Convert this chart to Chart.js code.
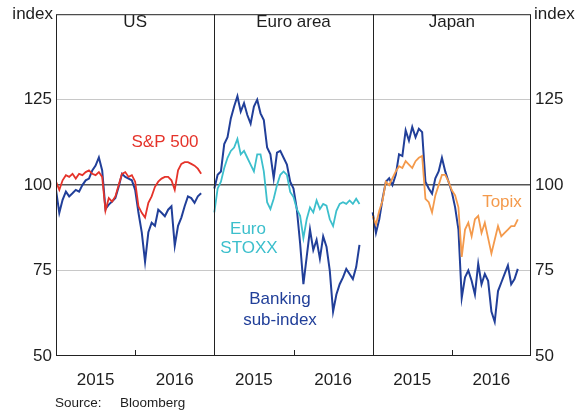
<!DOCTYPE html>
<html>
<head>
<meta charset="UTF-8">
<title>Bank share prices</title>
<script src="https://cdn.jsdelivr.net/npm/chart.js@4.4.0/dist/chart.umd.min.js"></script>
<style>
body { margin:0; background:#fff; }
</style>
</head>
<body>
<canvas id="myChart" width="588" height="412"></canvas>
<script>
// months since Jan 2015 (half-month steps), same for every panel
var months = [0,0.5,1,1.5,2,2.5,3,3.5,4,4.5,5,5.5,6,6.5,7,7.5,8,8.5,9,9.5,10,10.5,
  11,11.5,12,12.5,13,13.5,14,14.5,15,15.5,16,16.5,17,17.5,18,18.5,19,19.5,20,20.5,21,21.5,22];
var panels = ['US', 'Euro area', 'Japan'];
var yearLabels = ['2015', '2016'];
var yTicks = [50, 75, 100, 125];

// index values
var spx = [101,98.6,101.4,102.9,102.4,103.3,101.9,103.3,102.9,103.8,104.3,103.3,102.9,103.8,102.4,92.5,96.2,95.2,96.7,100,
  103.3,103.8,102.4,102.9,101,93.8,91.9,90.5,94.8,96.7,99.5,101,101.9,102.4,102.4,101.4,98.6,104.3,106.2,106.7,106.7,106.2,105.7,104.8,103.3];
var usBanks = [98.6,91.9,95.7,98.1,96.7,97.6,98.6,98.1,100,101.4,101.9,104.3,105.7,108.1,104.3,93,94.3,95.2,96.2,99.5,
  103.3,102.4,101.9,101.4,98.6,91.9,86.2,77.6,86.2,89,88.1,92.8,91.9,90.9,92.8,93.8,82.3,88.1,90.5,93.8,96.7,96.2,94.8,96.7,97.6];
var euroStoxx = [92,99,101,105,108,110,111,113.5,109,110,108,106,104,109,109,104,95,93,96,100,
  103,104,103,98,96.5,93,91,84.5,90,93.5,92,95.5,93,94.5,94,90,88,92.5,94.5,95,94.5,95.5,94.5,96,94.5];
var euroBanks = [99,103,104,112,114,119.5,123,126,121.5,124,120.5,118,123,125,121,119,111,109,102,109.5,
  110,108,106,101,99,93,83,71,79,87,81,84,78.5,85,82,75,63,68,71,73,75.5,74,72.5,76,82.5];
var topix = [91,88.5,92.5,95.5,101,100,102,104,105.5,105,107,106,105,107,108,108.5,96,95,92,97,
  100,103,103,101,98.5,97,93.5,79,87,89,85,90,91,86,89,84.5,80,84,88,85,86,87,88,88,90];
var japanBanks = [92,86,90,96,101,102,100,103,109,108.5,116,113,117,114,116.5,115.5,101,99,97.5,102,
  104,108,104,101,98,93.5,87,67,73,75,72,68,77,71,74,72,63,60,69,71.5,74,76.5,71,72.5,75.5];

var BLUE = '#213f99', RED = '#e5332a', CYAN = '#3cbfcc', ORANGE = '#f49a4c', TEXT = '#1e1e1e';
var FONT = '"Liberation Sans", Arial, sans-serif';
Chart.defaults.font.family = FONT;

// each panel is 24 months wide on one shared x scale
function toPoints(vals, panel) {
  return vals.map(function(v, i) { return { x: panel * 24 + months[i], y: v }; });
}
function line(vals, panel, color, w) {
  return { data: toPoints(vals, panel), borderColor: color, borderWidth: w,
           pointRadius: 0, tension: 0, fill: false, yAxisID: 'y' };
}

var framePlugin = {
  id: 'frame',
  afterDraw: function(chart) {
    var c = chart.ctx, a = chart.chartArea, x = chart.scales.x;
    c.save();
    c.strokeStyle = '#222';
    c.lineWidth = 1;
    c.strokeRect(a.left + 0.5, a.top + 0.5, a.right - a.left - 1, a.bottom - a.top - 1);
    // panel dividers
    [24, 48].forEach(function(v) {
      var px = Math.round(x.getPixelForValue(v)) + 0.5;
      c.beginPath(); c.moveTo(px, a.top); c.lineTo(px, a.bottom); c.stroke();
    });
    // year ticks
    [12, 36, 60].forEach(function(v) {
      var px = Math.round(x.getPixelForValue(v)) + 0.5;
      c.beginPath(); c.moveTo(px, a.bottom); c.lineTo(px, a.bottom - 6); c.stroke();
    });
    c.fillStyle = TEXT;
    c.font = '17px ' + FONT;
    c.textBaseline = 'middle';
    c.textAlign = 'right';
    c.fillText('index', a.left - 3, 14);
    c.textAlign = 'left';
    c.fillText('index', a.right + 3, 14);
    c.textAlign = 'center';
    panels.forEach(function(p, i) {
      c.fillText(p, x.getPixelForValue(i * 24 + 12), 22);
    });
    // series labels
    c.fillStyle = RED;   c.fillText('S&P 500', 165, 142);
    c.fillStyle = CYAN;  c.fillText('Euro', 248, 229); c.fillText('STOXX', 249, 248);
    c.fillStyle = BLUE;  c.fillText('Banking', 280, 299); c.fillText('sub-index', 280, 320);
    c.fillStyle = ORANGE; c.fillText('Topix', 502, 202);
    // source
    c.fillStyle = TEXT;
    c.font = '13.5px ' + FONT;
    c.textAlign = 'left';
    c.fillText('Source:', 55, 403);
    c.fillText('Bloomberg', 120, 403);
    c.restore();
  }
};

var ctx = document.getElementById('myChart').getContext('2d');
var myChart = new Chart(ctx, {
  type: 'line',
  data: {
    datasets: [
      line(spx, 0, RED, 1.8),
      line(usBanks, 0, BLUE, 2),
      line(euroStoxx, 1, CYAN, 1.8),
      line(euroBanks, 1, BLUE, 2),
      line(topix, 2, ORANGE, 1.8),
      line(japanBanks, 2, BLUE, 2)
    ]
  },
  options: {
    responsive: false,
    animation: false,
    devicePixelRatio: 1,
    layout: { padding: { top: 6 } },
    plugins: { legend: { display: false }, tooltip: { enabled: false } },
    scales: {
      x: {
        type: 'linear', min: 0, max: 72,
        afterBuildTicks: function(s) {
          s.ticks = [6, 18, 30, 42, 54, 66].map(function(v) { return { value: v }; });
        },
        afterFit: function(s) { s.height = 56; },
        ticks: {
          callback: function(v, i) { return yearLabels[i % 2]; },
          font: { size: 17 }, color: TEXT, padding: 14, maxRotation: 0, autoSkip: false
        },
        grid: { display: false, drawTicks: false },
        border: { display: false }
      },
      y: {
        position: 'left', min: 50, max: 150,
        afterBuildTicks: function(s) {
          s.ticks = yTicks.map(function(v) { return { value: v }; });
        },
        afterFit: function(s) { s.width = 56; },
        ticks: { font: { size: 17 }, color: TEXT, padding: 4 },
        grid: {
          drawTicks: false,
          color: function(c) {
            if (c.tick.value === 100) return '#555';
            if (c.tick.value === 50) return 'rgba(0,0,0,0)';
            return '#c8c8c8';
          },
          lineWidth: function(c) { return c.tick.value === 100 ? 1.5 : 1; }
        },
        border: { display: false }
      },
      y2: {
        position: 'right', min: 50, max: 150,
        afterBuildTicks: function(s) {
          s.ticks = yTicks.map(function(v) { return { value: v }; });
        },
        afterFit: function(s) { s.width = 57; },
        ticks: { font: { size: 17 }, color: TEXT, padding: 4 },
        grid: { display: false, drawTicks: false },
        border: { display: false }
      }
    }
  },
  plugins: [framePlugin]
});
</script>
</body>
</html>
